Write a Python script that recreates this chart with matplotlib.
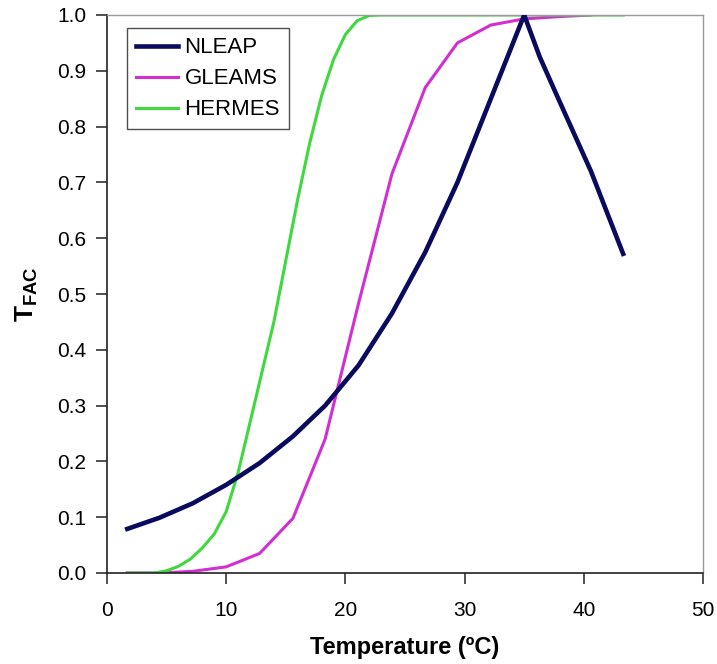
"""Temperature factor curves for NLEAP, GLEAMS and HERMES"""

import matplotlib
matplotlib.use('Agg')
import matplotlib.pyplot as plt

plt.rcParams['font.family'] = ['Liberation Sans', 'DejaVu Sans']
plt.rcParams['mathtext.fontset'] = 'custom'
plt.rcParams['mathtext.bf'] = 'Liberation Sans:bold'
plt.rcParams['mathtext.rm'] = 'Liberation Sans'

# data
nleap_t = [1.7, 4.4, 7.2, 10.0, 12.8, 15.6, 18.3, 21.1, 23.9, 26.7, 29.4,
           32.2, 35.0, 36.3, 37.8, 40.6, 43.3]
nleap_f = [0.079, 0.099, 0.125, 0.158, 0.197, 0.245, 0.300, 0.372, 0.465,
           0.575, 0.700, 0.850, 1.000, 0.925, 0.853, 0.720, 0.572]

gleams_t = [1.7, 4.4, 7.2, 10.0, 12.8, 15.6, 18.3, 21.1, 23.9, 26.7, 29.4,
            32.2, 35.0, 37.8, 40.6]
gleams_f = [0.0, 0.0, 0.003, 0.011, 0.035, 0.098, 0.24, 0.483, 0.715, 0.87,
            0.95, 0.982, 0.993, 0.997, 1.0]

hermes_t = [1.7, 3, 4, 5, 6, 7, 8, 9, 10, 11, 12, 13, 14, 15, 16, 17, 18,
            19, 20, 21, 22, 23, 43.3]
hermes_f = [0.0, 0.0, 0.0, 0.004, 0.012, 0.025, 0.045, 0.07, 0.11, 0.18,
            0.27, 0.36, 0.45, 0.56, 0.67, 0.77, 0.855, 0.92, 0.965, 0.99,
            0.999, 1.0, 1.0]

x_ticks = [0, 10, 20, 30, 40, 50]
y_ticks = [0.0, 0.1, 0.2, 0.3, 0.4, 0.5, 0.6, 0.7, 0.8, 0.9, 1.0]


def main():
    """Plot the graph"""
    fig = plt.figure(figsize=(7.17, 6.64), dpi=100)
    axes = fig.add_axes([107 / 717, 91 / 664, 596 / 717, 558 / 664])

    axes.plot(nleap_t, nleap_f, color='#0a0a5e', lw=3.3, label='NLEAP',
              solid_joinstyle='round', zorder=3)
    axes.plot(gleams_t, gleams_f, color='#d22fd2', lw=2.2, label='GLEAMS',
              zorder=2)
    axes.plot(hermes_t, hermes_f, color='#3fd83f', lw=2.2, label='HERMES',
              zorder=2)

    axes.set_xlim(0, 50)
    axes.set_ylim(0, 1.0)
    axes.set_xticks(x_ticks)
    axes.set_yticks(y_ticks)
    axes.set_yticklabels(['%.1f' % v for v in y_ticks])
    axes.tick_params(direction='out', length=8, width=1.2, labelsize=15,
                     color='#333333', pad=7)
    axes.tick_params(axis='x', pad=12)

    for side in ['left', 'bottom']:
        axes.spines[side].set_color('#222222')
        axes.spines[side].set_linewidth(1.2)
    for side in ['top', 'right']:
        axes.spines[side].set_color('#999999')
        axes.spines[side].set_linewidth(1.0)

    axes.set_xlabel('Temperature (ºC)', fontsize=17, fontweight='bold',
                    labelpad=12)
    axes.set_ylabel(r'$\mathbf{T_{FAC}}$', fontsize=19, labelpad=12)

    legend = axes.legend(loc='upper left', bbox_to_anchor=(0.033, 0.976),
                         fontsize=16, frameon=True, fancybox=False,
                         edgecolor='#222222', handlelength=1.9,
                         handletextpad=0.3, labelspacing=0.45,
                         borderpad=0.4, borderaxespad=0)
    legend.get_frame().set_linewidth(1.0)

    fig.savefig('out.png', dpi=100)


main()
